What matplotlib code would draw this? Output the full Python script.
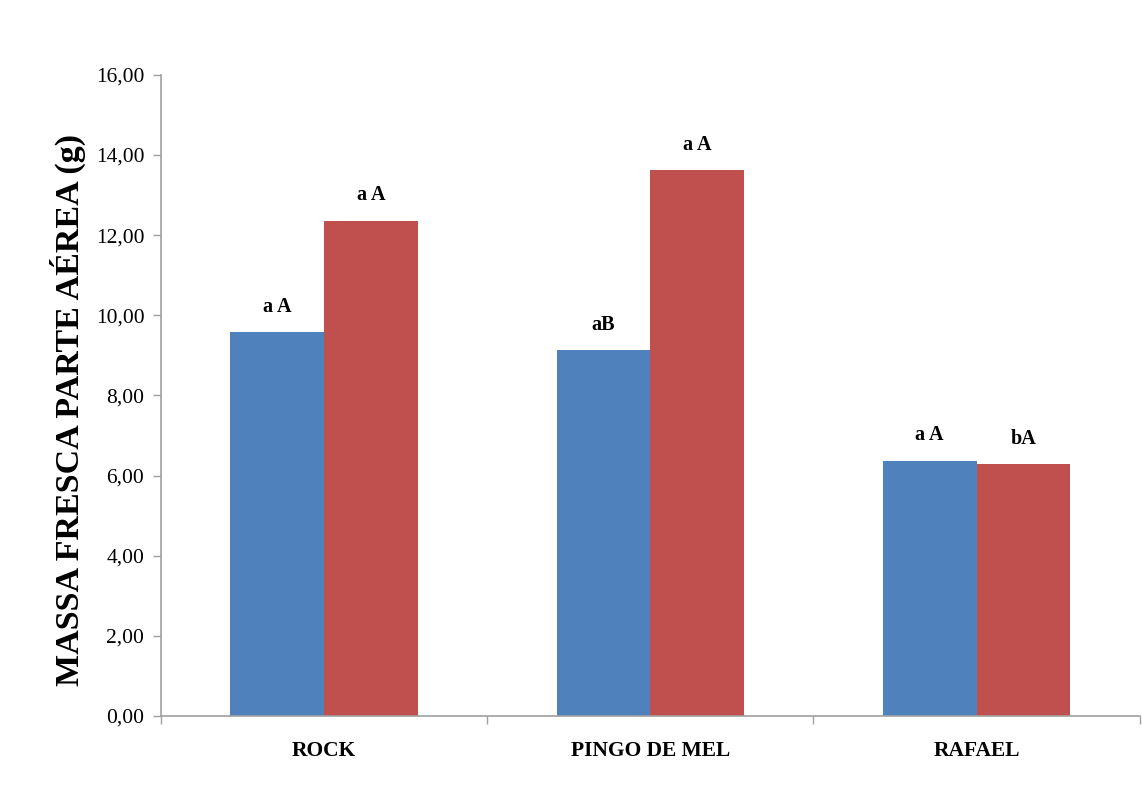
import matplotlib
matplotlib.use("Agg")
import matplotlib.pyplot as plt
import numpy as np

cultivars = ["ROCK", "PINGO DE MEL", "RAFAEL"]
blue_vals = [9.58, 9.14, 6.37]
red_vals = [12.36, 13.63, 6.29]
blue_letters = ["a A", "aB", "a A"]
red_letters = ["a A", "a A", "bA"]
yticks = [0, 2, 4, 6, 8, 10, 12, 14, 16]

plt.rcParams["font.family"] = ["Liberation Serif", "DejaVu Serif"]

fig = plt.figure(figsize=(11.42, 7.85), dpi=100)
ax = fig.add_axes([0.141, 0.088, 0.857, 0.8166])

x = np.arange(len(cultivars))
w = 0.2875
b1 = ax.bar(x - w / 2, blue_vals, w, color="#4F81BD")
b2 = ax.bar(x + w / 2, red_vals, w, color="#C0504D")

for bars, labels in ((b1, blue_letters), (b2, red_letters)):
    for rect, lab in zip(bars, labels):
        ax.text(rect.get_x() + rect.get_width() / 2, rect.get_height() + 0.38, lab,
                ha="center", va="bottom", fontsize=14.5, fontweight="bold")

ax.set_xlim(-0.5, len(cultivars) - 0.5)
ax.set_ylim(0, 16)
ax.set_yticks(yticks)
ax.set_yticklabels([f"{v:.2f}".replace(".", ",") for v in yticks], fontsize=15.5)

# category labels at centres, tick marks at group boundaries
ax.set_xticks(x)
ax.set_xticklabels(cultivars, fontsize=15.5, fontweight="bold")
ax.tick_params(axis="x", length=0, pad=18)
ax.set_xticks(np.arange(-0.5, len(cultivars)), minor=True)
ax.tick_params(axis="x", which="minor", length=6, color="#A0A0A0", width=1)
ax.tick_params(axis="y", length=6, color="#A0A0A0", width=1, pad=6)

for side in ("top", "right"):
    ax.spines[side].set_visible(False)
for side in ("left", "bottom"):
    ax.spines[side].set_color("#A0A0A0")
    ax.spines[side].set_linewidth(1.2)

ax.set_ylabel("MASSA FRESCA PARTE AÉREA (g)", fontsize=24.5, fontweight="bold")
ax.yaxis.set_label_coords(-0.077, 0.477)

fig.savefig("out.png", dpi=100)
